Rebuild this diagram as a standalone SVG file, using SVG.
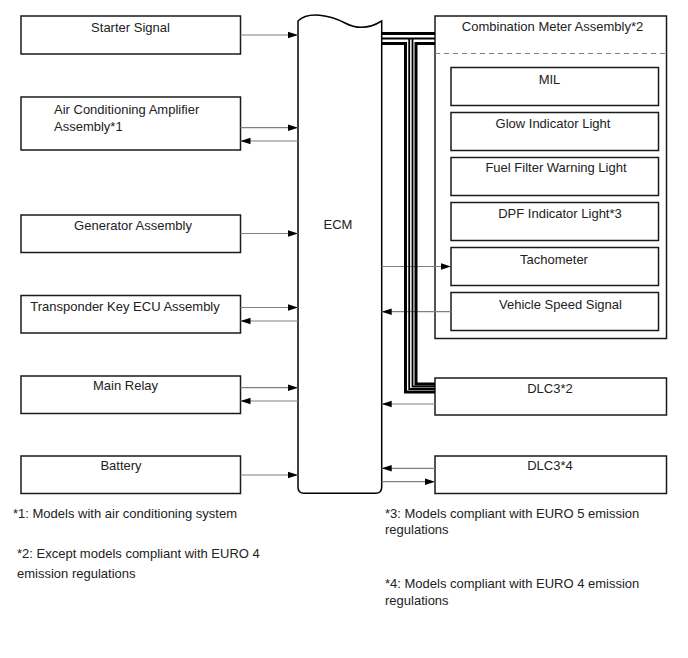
<svg xmlns="http://www.w3.org/2000/svg" width="688" height="658" viewBox="0 0 688 658">
<defs>
<marker id="ah" markerUnits="userSpaceOnUse" markerWidth="11" markerHeight="8" refX="10" refY="4" orient="auto">
<path d="M0,0.8 L10,4 L0,7.2 Z" fill="#000"/>
</marker>
<style>
.box{fill:#fff;stroke:#1a1a1a;stroke-width:1.5}
.t{font-family:"Liberation Sans",Arial,sans-serif;font-size:13px;fill:#222}
.c{text-anchor:middle}
.w{fill:none;stroke:#808080;stroke-width:1.2;marker-end:url(#ah)}
.bk{fill:none;stroke:#000;stroke-width:3}
.bn{fill:none;stroke:#000;stroke-width:1.8}
.fn{font-family:"Liberation Sans",Arial,sans-serif;font-size:13px;fill:#222}
</style>
</defs>
<rect width="688" height="658" fill="#fff"/>

<g id="starter"><rect class="box" x="21" y="16" width="219.5" height="38"/><text class="t c" x="130.5" y="32">Starter Signal</text></g>
<g id="aircon"><rect class="box" x="21" y="97" width="219.5" height="53"/><text class="t" x="54" y="114">Air Conditioning Amplifier</text><text class="t" x="54" y="131">Assembly*1</text></g>
<g id="generator"><rect class="box" x="21" y="215" width="219.5" height="37.5"/><text class="t c" x="133" y="230">Generator Assembly</text></g>
<g id="transponder"><rect class="box" x="21" y="295.5" width="219.5" height="37.5"/><text class="t c" x="125" y="311">Transponder Key ECU Assembly</text></g>
<g id="mainrelay"><rect class="box" x="21" y="376" width="219.5" height="37.5"/><text class="t c" x="125.5" y="390">Main Relay</text></g>
<g id="battery"><rect class="box" x="21" y="456" width="219.5" height="37.5"/><text class="t c" x="121" y="470">Battery</text></g>

<g id="ecm"><path d="M298,21 C308,11 330,15 345,23 C360,31 372,27 381.7,21 L381.7,487 Q381.7,493.3 375.5,493.3 L304,493.3 Q298,493.3 298,487 Z" fill="#fff" stroke="#000" stroke-width="1.5"/><text class="t c" x="338" y="229">ECM</text></g>

<g id="combmeter"><rect class="box" x="435" y="16" width="231.5" height="322.5"/><text class="t c" x="552.5" y="31">Combination Meter Assembly*2</text><line x1="435" y1="53.5" x2="666.5" y2="53.5" stroke="#808080" stroke-width="1.2" stroke-dasharray="5,4"/></g>
<g id="mil"><rect class="box" x="451" y="67.5" width="207.5" height="38"/><text class="t c" x="549.5" y="84">MIL</text></g>
<g id="glow"><rect class="box" x="451" y="112.5" width="207.5" height="38"/><text class="t c" x="553" y="128">Glow Indicator Light</text></g>
<g id="fuelfilter"><rect class="box" x="451" y="157.5" width="207.5" height="38"/><text class="t c" x="556" y="172">Fuel Filter Warning Light</text></g>
<g id="dpf"><rect class="box" x="451" y="202.5" width="207.5" height="38"/><text class="t c" x="560" y="217.5">DPF Indicator Light*3</text></g>
<g id="tacho"><rect class="box" x="451" y="247.5" width="207.5" height="38"/><text class="t c" x="554" y="263.5">Tachometer</text></g>
<g id="vss"><rect class="box" x="451" y="292.5" width="207.5" height="38"/><text class="t c" x="560.5" y="308.5">Vehicle Speed Signal</text></g>
<g id="dlc3a"><rect class="box" x="435" y="378" width="231.5" height="37"/><text class="t c" x="550" y="393">DLC3*2</text></g>
<g id="dlc3b"><rect class="box" x="435" y="456" width="231.5" height="37.5"/><text class="t c" x="550" y="470">DLC3*4</text></g>

<g id="connectors">
<line class="w" x1="240.5" y1="35" x2="298" y2="35"/>
<line class="w" x1="240.5" y1="127.7" x2="298" y2="127.7"/>
<line class="w" x1="298" y1="141" x2="240.5" y2="141"/>
<line class="w" x1="240.5" y1="233.5" x2="298" y2="233.5"/>
<line class="w" x1="240.5" y1="307.5" x2="298" y2="307.5"/>
<line class="w" x1="298" y1="321" x2="240.5" y2="321"/>
<line class="w" x1="240.5" y1="387.7" x2="298" y2="387.7"/>
<line class="w" x1="298" y1="401" x2="240.5" y2="401"/>
<line class="w" x1="240.5" y1="475" x2="298" y2="475"/>
<line class="w" x1="381.7" y1="266.5" x2="451" y2="266.5"/>
<line class="w" x1="451" y1="311.7" x2="381.7" y2="311.7"/>
<line class="w" x1="435" y1="404" x2="381.7" y2="404"/>
<line class="w" x1="435" y1="468.3" x2="381.7" y2="468.3"/>
<line class="w" x1="381.7" y1="481.7" x2="435" y2="481.7"/>
<g id="bus">
<line class="bk" x1="381.7" y1="33.5" x2="435" y2="33.5"/>
<line class="bn" x1="381.7" y1="38.5" x2="435" y2="38.5"/>
<polyline class="bk" points="381.7,43.5 405.5,43.5 405.5,392 435,392"/>
<polyline class="bn" points="409.2,38.5 409.2,389 435,389"/>
<polyline class="bn" points="412.5,38.5 412.5,386.5 435,386.5"/>
<polyline class="bk" points="435,43.5 416,43.5 416,384 435,384"/>
</g>
</g>

<g id="notes">
<text class="fn" x="13" y="518">*1: Models with air conditioning system</text>
<text class="fn" x="17" y="558">*2: Except models compliant with EURO 4</text>
<text class="fn" x="17" y="578">emission regulations</text>
<text class="fn" x="385" y="518">*3: Models compliant with EURO 5 emission</text>
<text class="fn" x="385" y="534">regulations</text>
<text class="fn" x="385" y="588">*4: Models compliant with EURO 4 emission</text>
<text class="fn" x="385" y="605">regulations</text>
</g>
</svg>
